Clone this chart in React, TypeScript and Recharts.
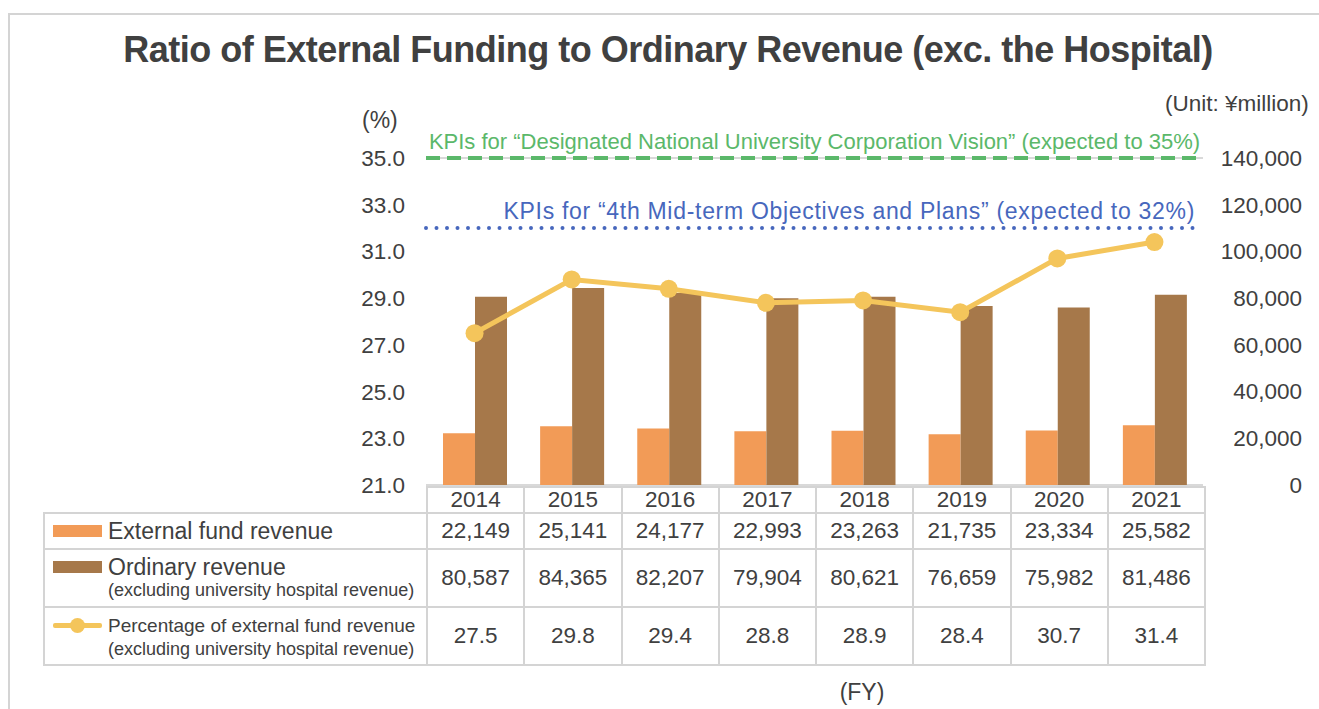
import {
  ComposedChart,
  Bar,
  Line,
  XAxis,
  YAxis,
  CartesianGrid,
  ReferenceLine,
} from "recharts";

// Fiscal years (categories)
const years = ["2014", "2015", "2016", "2017", "2018", "2019", "2020", "2021"];

// External fund revenue (¥million)
const externalFund = [22149, 25141, 24177, 22993, 23263, 21735, 23334, 25582];

// Ordinary revenue excl. hospital (¥million)
const ordinaryRevenue = [80587, 84365, 82207, 79904, 80621, 76659, 75982, 81486];

// Percentage of external fund revenue (%)
const externalPct = [27.5, 29.8, 29.4, 28.8, 28.9, 28.4, 30.7, 31.4];

const leftTicks = [21, 23, 25, 27, 29, 31, 33, 35];
const rightTicks = [0, 20000, 40000, 60000, 80000, 100000, 120000, 140000];

const kpiVision = 35;
const kpiMidTerm = 32;

const chartData = years.map((year, i) => ({
  year,
  external: externalFund[i],
  ordinary: ordinaryRevenue[i],
  pct: externalPct[i],
}));

const TEXT = "#404040";
const ORANGE = "#F29B57";
const BROWN = "#A6784A";
const YELLOW = "#F4C55B";
const GREEN = "#5BB86A";
const BLUE = "#4767BD";
const BORDER = "#d4d4d4";
const FONT = "'Liberation Sans', Arial, sans-serif";

const fmt = (v: number) => v.toLocaleString("en-US");

const RightTick = (props: any) => (
  <text
    x={props.x + 91}
    y={props.y}
    dy="0.35em"
    textAnchor="end"
    fill={TEXT}
    fontSize={22.5}
  >
    {fmt(props.payload.value)}
  </text>
);

const visionLabel = (props: any) => {
  const vb = props.viewBox;
  return (
    <text x={vb.x + vb.width / 2} y={vb.y - 9} textAnchor="middle" fill={GREEN} fontSize={22}>
      KPIs for “Designated National University Corporation Vision” (expected to 35%)
    </text>
  );
};

const midTermLabel = (props: any) => {
  const vb = props.viewBox;
  return (
    <text
      x={vb.x + vb.width - 8}
      y={vb.y - 9}
      textAnchor="end"
      fill={BLUE}
      fontSize={23}
      letterSpacing={0.7}
    >
      KPIs for “4th Mid-term Objectives and Plans” (expected to 32%)
    </text>
  );
};

const cell: React.CSSProperties = {
  border: `2px solid ${BORDER}`,
  textAlign: "center",
  fontSize: 22.5,
  color: TEXT,
  padding: 0,
};

const legendCell: React.CSSProperties = {
  ...cell,
  textAlign: "left",
  verticalAlign: "top",
  position: "relative",
};

function Swatch({ color }: { color: string }) {
  return (
    <div style={{ position: "absolute", left: 8, top: 11, width: 49, height: 12, background: color }} />
  );
}

function LineSwatch() {
  return (
    <div style={{ position: "absolute", left: 8, top: 9, width: 49, height: 16 }}>
      <div style={{ position: "absolute", left: 0, top: 6, width: 49, height: 5, background: YELLOW, borderRadius: 2 }} />
      <div style={{ position: "absolute", left: 17, top: 1, width: 15, height: 15, background: YELLOW, borderRadius: "50%" }} />
    </div>
  );
}

export default function App() {
  return (
    <div
      style={{
        position: "absolute",
        left: 0,
        top: 0,
        width: 1319,
        height: 709,
        overflow: "hidden",
        background: "#fff",
        fontFamily: FONT,
        color: TEXT,
      }}
    >
      {/* outer frame */}
      <div
        style={{
          position: "absolute",
          left: 8,
          top: 13,
          width: 1320,
          height: 710,
          borderLeft: `2px solid ${BORDER}`,
          borderTop: `2px solid ${BORDER}`,
        }}
      />

      <div
        style={{
          position: "absolute",
          left: 0,
          top: 30,
          width: 1336,
          textAlign: "center",
          fontSize: 36,
          lineHeight: "40px",
          letterSpacing: -0.5,
          fontWeight: "bold",
          whiteSpace: "nowrap",
        }}
      >
        Ratio of External Funding to Ordinary Revenue (exc. the Hospital)
      </div>

      <div
        style={{
          position: "absolute",
          left: 1165,
          top: 91,
          fontSize: 22.5,
          lineHeight: "26px",
          whiteSpace: "nowrap",
        }}
      >
        (Unit: ¥million)
      </div>
      <div style={{ position: "absolute", left: 362, top: 107, fontSize: 23, lineHeight: "26px" }}>(%)</div>

      <div style={{ position: "absolute", left: 0, top: 0 }}>
        <ComposedChart
          width={1319}
          height={709}
          data={chartData}
          margin={{ top: 158, right: 6, bottom: 224, left: 346 }}
          barGap={0}
          style={{ fontFamily: FONT }}
        >
          <CartesianGrid vertical={false} stroke="#d9d9d9" strokeWidth={2} />
          <XAxis dataKey="year" hide />
          <YAxis
            yAxisId="left"
            orientation="left"
            width={80}
            domain={[21, 35]}
            ticks={leftTicks}
            allowDataOverflow
            axisLine={false}
            tickLine={false}
            tickSize={0}
            tickMargin={21}
            tickFormatter={(v: number) => v.toFixed(1)}
            tick={{ fill: TEXT, fontSize: 22.5 }}
          />
          <YAxis
            yAxisId="right"
            orientation="right"
            width={110}
            domain={[0, 140000]}
            ticks={rightTicks}
            axisLine={false}
            tickLine={false}
            tickSize={0}
            tickMargin={8}
            tick={<RightTick />}
          />
          <Bar yAxisId="right" dataKey="external" fill={ORANGE} barSize={32} isAnimationActive={false} />
          <Bar yAxisId="right" dataKey="ordinary" fill={BROWN} barSize={32} isAnimationActive={false} />
          <ReferenceLine
            yAxisId="left"
            y={kpiVision}
            stroke={GREEN}
            strokeWidth={4}
            strokeDasharray="14 7"
            label={visionLabel}
          />
          <ReferenceLine
            yAxisId="left"
            y={kpiMidTerm}
            stroke={BLUE}
            strokeWidth={4}
            strokeDasharray="0 10.5"
            strokeLinecap="round"
            label={midTermLabel}
          />
          <Line
            yAxisId="left"
            dataKey="pct"
            stroke={YELLOW}
            strokeWidth={5}
            dot={{ r: 9, fill: YELLOW, stroke: "none" }}
            activeDot={false}
            isAnimationActive={false}
          />
        </ComposedChart>
      </div>

      {/* data table */}
      <table
        style={{
          position: "absolute",
          left: 43,
          top: 486,
          borderCollapse: "collapse",
          tableLayout: "fixed",
          width: 1161,
          fontFamily: FONT,
        }}
      >
        <colgroup>
          <col style={{ width: 383 }} />
          {years.map((y) => (
            <col key={y} style={{ width: 97.25 }} />
          ))}
        </colgroup>
        <tbody>
          <tr style={{ height: 26 }}>
            <td style={{ border: "none", padding: 0 }} />
            {years.map((y) => (
              <td key={y} style={{ ...cell, lineHeight: "22px" }}>
                {y}
              </td>
            ))}
          </tr>
          <tr style={{ height: 36 }}>
            <td style={legendCell}>
              <Swatch color={ORANGE} />
              <div style={{ marginLeft: 63, marginTop: 5, fontSize: 23, lineHeight: "24px" }}>
                External fund revenue
              </div>
            </td>
            {externalFund.map((v, i) => (
              <td key={i} style={cell}>
                {fmt(v)}
              </td>
            ))}
          </tr>
          <tr style={{ height: 58 }}>
            <td style={legendCell}>
              <Swatch color={BROWN} />
              <div style={{ marginLeft: 63, marginTop: 6, fontSize: 23, lineHeight: "23px" }}>
                Ordinary revenue
              </div>
              <div style={{ marginLeft: 63, fontSize: 18, lineHeight: "23px", whiteSpace: "nowrap" }}>
                (excluding university hospital revenue)
              </div>
            </td>
            {ordinaryRevenue.map((v, i) => (
              <td key={i} style={cell}>
                {fmt(v)}
              </td>
            ))}
          </tr>
          <tr style={{ height: 58 }}>
            <td style={legendCell}>
              <LineSwatch />
              <div style={{ marginLeft: 63, marginTop: 6, fontSize: 19, lineHeight: "24px", whiteSpace: "nowrap" }}>
                Percentage of external fund revenue
              </div>
              <div style={{ marginLeft: 63, fontSize: 18, lineHeight: "23px", whiteSpace: "nowrap" }}>
                (excluding university hospital revenue)
              </div>
            </td>
            {externalPct.map((v, i) => (
              <td key={i} style={cell}>
                {v.toFixed(1)}
              </td>
            ))}
          </tr>
        </tbody>
      </table>

      <div
        style={{
          position: "absolute",
          left: 812,
          top: 679,
          width: 100,
          textAlign: "center",
          fontSize: 23,
          lineHeight: "26px",
        }}
      >
        (FY)
      </div>
    </div>
  );
}
